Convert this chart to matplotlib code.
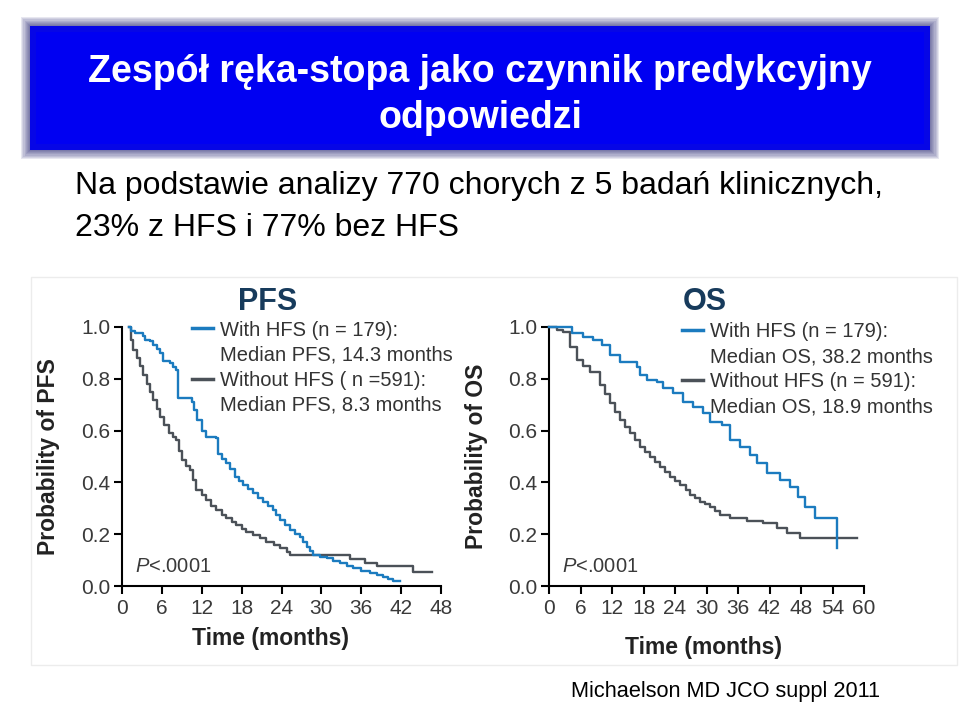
import matplotlib
matplotlib.use("Agg")
import matplotlib.pyplot as plt
from matplotlib.patches import Rectangle
from matplotlib.lines import Line2D

plt.rcParams['font.family'] = ['Liberation Sans', 'DejaVu Sans']
plt.rcParams['mathtext.fontset'] = 'custom'
plt.rcParams['mathtext.it'] = 'Liberation Sans:italic'
plt.rcParams['mathtext.rm'] = 'Liberation Sans'

# --- data (months, survival probability) ---
pfs_hfs_t = [1, 1.3, 2.0, 3.2, 3.5, 4.2, 4.7, 5.2, 5.7, 6.2, 7.2, 7.7, 8.2, 8.5,
             10.5, 10.8, 11.3, 12, 12.7, 14.2, 14.5, 15.0, 15.7, 16.3, 17, 17.6,
             18.2, 19, 19.7, 20.5, 21.2, 22, 22.7, 23.2, 23.8, 24.5, 25.3, 26,
             26.8, 27.3, 27.8, 28.3, 28.8, 29.8, 30.8, 31.8, 32.8, 33.8, 34.8,
             36, 37.3, 38.3, 39.3, 40, 40.8, 41.8]
pfs_hfs_p = [1.0, 0.985, 0.975, 0.965, 0.95, 0.945, 0.93, 0.915, 0.90, 0.87, 0.86,
             0.845, 0.834, 0.725, 0.71, 0.68, 0.64, 0.60, 0.577, 0.57, 0.51, 0.49,
             0.474, 0.45, 0.42, 0.405, 0.39, 0.375, 0.358, 0.34, 0.326, 0.31,
             0.293, 0.275, 0.255, 0.235, 0.216, 0.20, 0.19, 0.17, 0.152, 0.135,
             0.12, 0.113, 0.107, 0.097, 0.0875, 0.078, 0.068, 0.058, 0.049, 0.042,
             0.036, 0.028, 0.02, 0.02]

pfs_no_t = [1, 1.3, 1.7, 2.2, 2.7, 3.2, 3.7, 4.2, 4.7, 5.2, 5.7, 6.3, 7.0, 7.6,
            8.2, 8.6, 9.0, 9.6, 10.2, 10.7, 11.2, 12.0, 12.7, 13.4, 14.2, 15.0,
            15.7, 16.5, 17.2, 18.0, 18.7, 19.7, 20.7, 21.7, 22.8, 23.8, 24.8,
            25.3, 34.3, 36.5, 38.3, 43.8, 46.6]
pfs_no_p = [1.0, 0.95, 0.91, 0.88, 0.85, 0.815, 0.78, 0.75, 0.72, 0.685, 0.654,
            0.62, 0.59, 0.575, 0.564, 0.52, 0.486, 0.465, 0.448, 0.41, 0.37, 0.35,
            0.332, 0.31, 0.293, 0.275, 0.261, 0.248, 0.235, 0.222, 0.21, 0.197,
            0.184, 0.17, 0.158, 0.145, 0.133, 0.12, 0.105, 0.09, 0.078, 0.055,
            0.055]

os_hfs_t = [0, 4.3, 4.6, 6.5, 8.4, 10, 11.6, 13.5, 16.7, 17.3, 18.6, 20.5, 21.8,
            23.7, 25.6, 27.5, 29.4, 30.7, 32.9, 34.5, 36.4, 38.3, 39.6, 41.5, 44,
            45.9, 47.5, 48.8, 50.7, 54.8, 54.9]
os_hfs_p = [1.0, 0.976, 0.976, 0.963, 0.95, 0.93, 0.89, 0.866, 0.847, 0.815, 0.795,
            0.789, 0.763, 0.744, 0.712, 0.692, 0.667, 0.634, 0.622, 0.564, 0.538,
            0.506, 0.474, 0.435, 0.41, 0.384, 0.345, 0.306, 0.261, 0.145, 0.145]

os_no_t = [0, 1.5, 2.7, 4, 5.3, 6.5, 7.8, 9.7, 10.6, 11.6, 12.5, 13.5, 14.5, 15.4,
           16.3, 17.3, 18.2, 19.2, 20.2, 21.1, 22, 23, 24, 25, 26, 26.9, 27.9,
           28.8, 29.8, 30.7, 31.7, 32.6, 34.5, 37.7, 40.8, 43.4, 45.3, 47.8, 58.6]
os_no_p = [1.0, 0.99, 0.98, 0.924, 0.873, 0.85, 0.828, 0.776, 0.74, 0.705, 0.673,
           0.641, 0.615, 0.59, 0.564, 0.538, 0.519, 0.5, 0.48, 0.46, 0.44, 0.422,
           0.405, 0.39, 0.37, 0.351, 0.338, 0.326, 0.316, 0.306, 0.29, 0.274,
           0.261, 0.252, 0.242, 0.223, 0.203, 0.184, 0.184]

pfs_labels = ["With HFS (n = 179):", "Median PFS, 14.3 months",
              "Without HFS ( n =591):", "Median PFS, 8.3 months"]
os_labels = ["With HFS (n = 179):", "Median OS, 38.2 months",
             "Without HFS (n = 591):", "Median OS, 18.9 months"]

title_lines = ["Zespół ręka-stopa jako czynnik predykcyjny", "odpowiedzi"]
sub_lines = ["Na podstawie analizy 770 chorych z 5 badań klinicznych,",
             "23% z HFS i 77% bez HFS"]
source = "Michaelson MD JCO suppl 2011"

blue = '#1b7bbf'
gray = '#4b5158'
navy = '#173b5c'
tick_col = '#3a3a3a'

W, H = 960, 706


def box(x0, y0, x1, y1):
    return [x0 / W, 1 - y1 / H, (x1 - x0) / W, (y1 - y0) / H]


fig = plt.figure(figsize=(9.6, 7.06), dpi=100)

# banner with a soft, blurred edge
for i in range(8, 0, -1):
    g = i * 1.1
    fig.patches.append(Rectangle(((30 - g) / W, 1 - (150 + g) / H),
                                 (900 + 2 * g) / W, (124 + 2 * g) / H,
                                 transform=fig.transFigure, color='#2a2a78',
                                 alpha=0.11, lw=0))
fig.patches.append(Rectangle((30 / W, 1 - 150 / H), 900 / W, 124 / H,
                             transform=fig.transFigure, color='#0606e6', lw=0))
fig.patches.append(Rectangle((36 / W, 1 - 144 / H), 888 / W, 112 / H,
                             transform=fig.transFigure, color='#0000f2', lw=0))
fig.text(0.5, 1 - 72 / H, title_lines[0], color='white', fontsize=27,
         fontweight='bold', ha='center', va='center')
fig.text(0.5, 1 - 118 / H, title_lines[1], color='white', fontsize=27,
         fontweight='bold', ha='center', va='center')

fig.text(75 / W, 1 - 186 / H, sub_lines[0], fontsize=23, ha='left', va='center')
fig.text(75 / W, 1 - 228 / H, sub_lines[1], fontsize=23, ha='left', va='center')
fig.text(880 / W, 1 - 692 / H, source, fontsize=15.7, ha='right', va='center')

# faint border of the pasted figure
fig.patches.append(Rectangle((31 / W, 1 - 665 / H), 926 / W, 388 / H,
                             transform=fig.transFigure, fill=False,
                             edgecolor='#ececec', lw=1))


def km_panel(ax, t1, p1, t2, p2, xmax, name, labels, leg_x, leg_y, title_x,
             xlab_xy):
    ax.step(t2, p2, where='post', color=gray, lw=1.7, clip_on=False, zorder=3)
    ax.step(t1, p1, where='post', color=blue, lw=1.7, clip_on=False, zorder=4)
    ax.set_xlim(0, xmax)
    ax.set_ylim(0, 1)
    ax.set_xticks(range(0, xmax + 1, 6))
    ax.set_yticks([0, 0.2, 0.4, 0.6, 0.8, 1.0])
    ax.set_yticklabels(['0.0', '0.2', '0.4', '0.6', '0.8', '1.0'])
    for s in ['top', 'right']:
        ax.spines[s].set_visible(False)
    for s in ['left', 'bottom']:
        ax.spines[s].set_linewidth(1.5)
    ax.tick_params(length=5.5, width=1.5, labelsize=15, labelcolor=tick_col,
                   pad=3)
    ax.tick_params(axis='x', pad=4)
    ax.set_ylabel('Probability of ' + name, fontsize=16.5, fontweight='bold',
                  color='#222222')
    ax.yaxis.set_label_coords(-0.194, 0.5)
    ax.set_xlabel('Time (months)', fontsize=16.5, fontweight='bold',
                  color='#222222')
    ax.xaxis.set_label_coords(*xlab_xy)
    ax.text(title_x, 1.095, name, transform=ax.transAxes, fontsize=22,
            fontweight='bold', color=navy, ha='center', va='center')
    ax.text(0.04, 0.075, '$P$<.0001', transform=ax.transAxes, fontsize=14.5,
            color=tick_col, ha='left', va='center')
    handles = [Line2D([], [], color=blue, lw=2.5), Line2D([], [], alpha=0),
               Line2D([], [], color=gray, lw=2.5), Line2D([], [], alpha=0)]
    ax.legend(handles, labels, loc='upper left', bbox_to_anchor=(leg_x, leg_y),
              frameon=False, fontsize=14.5, handlelength=1.05,
              handletextpad=0.35, labelspacing=0.3, borderpad=0,
              borderaxespad=0, labelcolor='#333333')


ax1 = fig.add_axes(box(122, 327, 441, 586))
km_panel(ax1, pfs_hfs_t, pfs_hfs_p, pfs_no_t, pfs_no_p, 48, 'PFS', pfs_labels,
         0.219, 1.025, 0.458, (0.464, -0.158))

ax2 = fig.add_axes(box(549, 327, 864, 586))
km_panel(ax2, os_hfs_t, os_hfs_p, os_no_t, os_no_p, 60, 'OS', os_labels,
         0.422, 1.018, 0.495, (0.489, -0.193))

fig.savefig('out.png', dpi=100)
